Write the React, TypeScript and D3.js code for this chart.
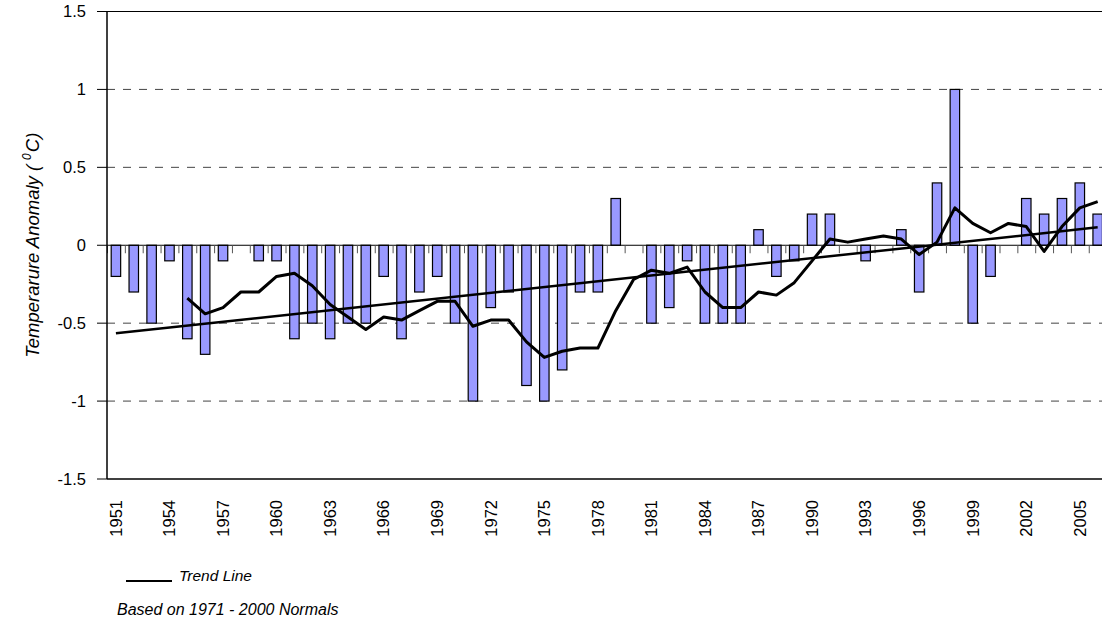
import React from 'react';
import * as d3 from 'd3';

// annual anomaly (deg C) vs 1971-2000 normals
const years = d3.range(1951, 2007).map(String);
const anomalies = [
  -0.2, -0.3, -0.5, -0.1, -0.6, -0.7, -0.1, 0, -0.1, -0.1,
  -0.6, -0.5, -0.6, -0.5, -0.5, -0.2, -0.6, -0.3, -0.2, -0.5,
  -1.0, -0.4, -0.3, -0.9, -1.0, -0.8, -0.3, -0.3, 0.3, 0,
  -0.5, -0.4, -0.1, -0.5, -0.5, -0.5, 0.1, -0.2, -0.1, 0.2,
  0.2, 0, -0.1, 0, 0.1, -0.3, 0.4, 1.0, -0.5, -0.2,
  0, 0.3, 0.2, 0.3, 0.4, 0.2,
];
// smoothed curve, 1955 onwards
const smoothYears = d3.range(1955, 2007).map(String);
const smoothValues = [
  -0.34, -0.44, -0.4, -0.3, -0.3, -0.2, -0.18, -0.26, -0.38, -0.46,
  -0.54, -0.46, -0.48, -0.42, -0.36, -0.36, -0.52, -0.48, -0.48, -0.62,
  -0.72, -0.68, -0.66, -0.66, -0.42, -0.22, -0.16, -0.18, -0.14, -0.3,
  -0.4, -0.4, -0.3, -0.32, -0.24, -0.1, 0.04, 0.02, 0.04, 0.06,
  0.04, -0.06, 0.02, 0.24, 0.14, 0.08, 0.14, 0.12, -0.04, 0.12,
  0.24, 0.28,
];
const trendYears = ['1951', '2006'];
const trendValues = [-0.565, 0.115];
const yTicks = [1.5, 1, 0.5, 0, -0.5, -1, -1.5];
const gridValues = [1, 0.5, -0.5, -1];

const W = 1102;
const H = 628;
const left = 107;
const top = 11.5;
const bottom = 479;
const step = 17.85;

const font = '"Liberation Sans", Arial, sans-serif';

export default function App() {
  const x = d3.scaleBand<string>()
    .domain(years)
    .range([left, left + step * years.length])
    .paddingInner(0.47)
    .paddingOuter(0.235);
  const y = d3.scaleLinear().domain([-1.5, 1.5]).range([bottom, top]);
  const cx = (yr: string) => (x(yr) as number) + x.bandwidth() / 2;
  const y0 = y(0);

  const line = d3.line<[string, number]>()
    .x(d => cx(d[0]))
    .y(d => y(d[1]));

  const smooth = line(smoothYears.map((yr, i) => [yr, smoothValues[i]]));
  const trend = line(trendYears.map((yr, i) => [yr, trendValues[i]]));

  const bounds = years.map((_, i) => left + i * step);

  return (
    <svg width={W} height={H} style={{ position: 'absolute', left: 0, top: 0, background: '#fff' }}
      fontFamily={font}>
      {/* dashed grid */}
      {gridValues.map(v => (
        <line key={v} x1={left} x2={W} y1={y(v)} y2={y(v)} stroke="#444" strokeWidth={1}
          strokeDasharray="8,8" />
      ))}

      {/* bars */}
      {years.map((yr, i) => {
        const v = anomalies[i];
        if (v === 0) return null;
        return (
          <rect key={yr} x={x(yr)} width={x.bandwidth()}
            y={Math.min(y(v), y0)} height={Math.abs(y(v) - y0)}
            fill="#9999ff" stroke="#000" strokeWidth={1.2} />
        );
      })}

      {/* zero line and category ticks */}
      <line x1={left} x2={W} y1={y0} y2={y0} stroke="#000" strokeWidth={1} />
      {bounds.map((bx, i) => (
        <line key={i} x1={bx + 0.5} x2={bx + 0.5} y1={y0} y2={y0 + 8} stroke="#555" strokeWidth={1} />
      ))}

      {/* frame */}
      <line x1={left} x2={W} y1={top} y2={top} stroke="#000" strokeWidth={1} />
      <line x1={left} x2={W} y1={bottom} y2={bottom} stroke="#000" strokeWidth={1.5} />
      <line x1={left} x2={left} y1={top} y2={bottom} stroke="#000" strokeWidth={1.5} />

      {/* y axis */}
      {yTicks.map(v => (
        <g key={v}>
          <line x1={97} x2={left} y1={y(v)} y2={y(v)} stroke="#000" strokeWidth={1} />
          <text x={86} y={y(v)} dy="0.35em" textAnchor="end" fontSize={16.5} fill="#000">{v}</text>
        </g>
      ))}
      <text transform={`translate(39,${y0}) rotate(-90)`} textAnchor="middle" fontSize={18.5}
        fontStyle="italic" fill="#000">
        Temperarure Anomaly (<tspan dx={5} dy={-8} fontSize={12}>0</tspan><tspan dx={1} dy={8}>C)</tspan>
      </text>

      {/* x labels every third year */}
      {years.filter((_, i) => i % 3 === 0).map(yr => (
        <text key={yr} transform={`translate(${cx(yr)},500) rotate(-90)`} textAnchor="end"
          dy="0.35em" fontSize={16.5} fill="#000">{yr}</text>
      ))}

      {/* lines */}
      <path d={smooth ?? ''} fill="none" stroke="#000" strokeWidth={3} strokeLinejoin="round" />
      <path d={trend ?? ''} fill="none" stroke="#000" strokeWidth={2.5} />

      {/* legend and note */}
      <line x1={126} x2={172} y1={581} y2={581} stroke="#000" strokeWidth={2} />
      <text x={179} y={581} fontSize={15.5} fontStyle="italic" fill="#000">Trend Line</text>
      <text x={117} y={615} fontSize={16} fontStyle="italic" fill="#000">Based on 1971 - 2000 Normals</text>
    </svg>
  );
}
